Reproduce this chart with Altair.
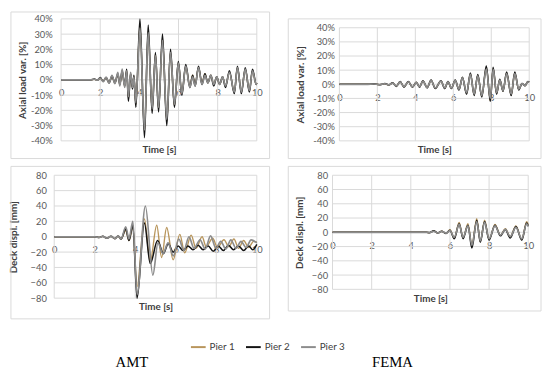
import altair as alt
import pandas as pd

PIERS = ["Pier 1", "Pier 2", "Pier 3"]
PIER_COLORS = ["#b8955b", "#141414", "#8c8c8c"]
X_TICKS = [0, 2, 4, 6, 8, 10]
AXIAL_TICKS = [-40, -30, -20, -10, 0, 10, 20, 30, 40]
DISPL_TICKS = [-80, -60, -40, -20, 0, 20, 40, 60, 80]

# ---- AMT, axial load variation [%] ----
amt_ax_t = [0, 1.5, 1.7, 1.85, 2.0, 2.15, 2.3, 2.45, 2.6, 2.75, 2.9, 3.0, 3.12, 3.25, 3.35,
            3.44, 3.55, 3.65, 3.72, 3.82, 4.03, 4.26, 4.45, 4.65, 4.82, 4.98, 5.18, 5.40,
            5.59, 5.79, 5.99, 6.17, 6.37, 6.58, 6.72, 6.85, 7.02, 7.2, 7.35, 7.5, 7.65, 7.8,
            7.95, 8.1, 8.25, 8.4, 8.6, 8.85, 9.01, 9.21, 9.41, 9.62, 9.78, 9.97, 10]
amt_ax_p1 = [0, 0, 0.3, -0.2, 1.0, -0.8, 1.4, -1.8, 2.2, -2, 3.5, -3, 5, -4, 6,
             -12, 4, -5, 2.5, -16, 36, -34, 32, -20, 17, -19, 27, -27, 18, -17,
             11, -9, 9, -4, 3, -3, 8, -2, 4, -2, 3, -3, 2, -3, 2,
             -4, 5, -8, 8, -8, 7, -7, 6, -3, -2]
amt_ax_p2 = [0, 0, 0.5, -0.3, 1.5, -1, 1.5, -2, 2.5, -2, 4, -3, 6, -4, 7,
             -14, 4, -6, 3, -18, 40, -38, 36, -22, 18, -21, 30, -30, 20, -18,
             12, -10, 10, -5, 3, -4, 9, -3, 4, -2, 3, -4, 2, -3, 2,
             -5, 6, -9, 9, -9, 8, -8, 7, -3, -2]
amt_ax_p3 = [0, 0, 0.4, -0.2, 1.2, -1.2, 1.8, -2.2, 3, -2.5, 5, -4, 7, -5, 6,
             -11, 5, -5, 2, -15, 34, -33, 31, -19, 16, -18, 26, -26, 18, -16,
             11, -9, 9, -5, 2, -4, 8, -3, 3, -2, 3, -3, 2, -3, 2,
             -4, 5, -8, 8, -8, 7, -7, 6, -3, -2]

# ---- FEMA, axial load variation [%] ----
fema_ax_t = [0, 1.5, 1.8, 2.1, 2.4, 2.6, 2.8, 3.0, 3.2, 3.4, 3.63, 3.85, 4.05, 4.22, 4.4,
             4.62, 4.83, 5.05, 5.35, 5.55, 5.72, 5.9, 6.1, 6.3, 6.48, 6.7, 6.9, 7.1, 7.29,
             7.5, 7.74, 7.95, 8.1, 8.28, 8.45, 8.62, 8.81, 9.05, 9.24, 9.45, 9.62, 9.78,
             9.93, 10]
fema_ax_p1 = [0, 0, 0.2, -0.2, 0.4, -0.5, 0.9, -1.3, 1.8, -1.8, 1.8, -1.9, 1.4, -1.8, 2.3,
              -2.3, 2.8, -2.8, 2.3, -2.8, 1.9, -2.8, 2.8, -3.8, 4.8, -6.5, 7.5, -7.5, 6.5,
              -8.5, 12, -11, 11, -6.5, 3.2, -4.8, 8, -7.5, 8, -3.8, 0.5, -1, 1.9, 1.5]
fema_ax_p2 = [0, 0, 0.3, -0.3, 0.5, -0.5, 1, -1.5, 2, -2, 2, -2, 1.5, -2, 2.5,
              -2.5, 3, -3, 2.5, -3, 2, -3, 3, -4, 5, -7, 8, -8, 7,
              -9, 13, -12, 12, -7, 3.5, -5, 8.6, -8, 8.6, -4, 0.5, -1, 2, 1.5]
fema_ax_p3 = [0, 0, 0.2, -0.2, 0.4, -0.4, 0.8, -1.2, 1.7, -1.7, 1.8, -1.8, 1.3, -1.7, 2.2,
              -2.2, 2.6, -2.6, 2.2, -2.6, 1.8, -2.6, 2.6, -3.5, 4.5, -6, 7, -7, 6,
              -8, 11, -10, 10.5, -6, 3, -4.5, 7.5, -7, 7.5, -3.5, 0.5, -1, 1.8, 1.5]

# ---- AMT, deck displacement [mm] ----
amt_dd_t1 = [0, 2.0, 2.2, 2.4, 2.6, 2.8, 3.0, 3.15, 3.3, 3.53, 3.69, 3.88, 4.09, 4.45, 4.74,
             5.06, 5.3, 5.55, 5.87, 6.2, 6.44, 6.76, 7.0, 7.3, 7.5, 7.82, 8.06, 8.38, 8.62,
             8.87, 9.1, 9.35, 9.6, 9.84, 10]
amt_dd_p1 = [0, 0, -1, 0.5, -2, 0.5, -2.5, 1, -3, 8, -5, 12, -65, 23, -32,
             15, -27, 12, -30, 3, -21, 2, -15, 0, -13, -2, -14, -4, -13,
             -3, -15, -5, -14, -6, -7]
amt_dd_t2 = [0, 2.0, 2.2, 2.4, 2.6, 2.8, 3.0, 3.15, 3.3, 3.53, 3.69, 3.88, 4.09, 4.45, 4.74,
             5.1, 5.39, 5.63, 5.87, 6.12, 6.36, 6.6, 6.85, 7.1, 7.35, 7.6, 7.85, 8.1, 8.35,
             8.6, 8.85, 9.1, 9.35, 9.6, 9.8, 10]
amt_dd_p2 = [0, 0, -1, 0.5, -2, 0.5, -2.5, 1, -3, 10, -5, 15, -80, 18, -35,
             -5, -22, -9, -20, -12, -18, -12, -17, -11, -17, -12, -19, -12, -18,
             -11, -17, -12, -18, -12, -17, -10]
amt_dd_t3 = [0, 2.0, 2.2, 2.4, 2.6, 2.8, 3.0, 3.15, 3.3, 3.53, 3.69, 3.88, 4.09, 4.5, 4.87,
             5.12, 5.37, 5.62, 5.88, 6.15, 6.4, 6.65, 6.9, 7.2, 7.45, 7.72, 7.98, 8.22, 8.47,
             8.72, 8.97, 9.22, 9.47, 9.72, 10]
amt_dd_p3 = [0, 0, -1, 0.5, -2, 0.5, -2.5, 1, -3, 13, -3, 20, -75, 40, -50,
             -8, -22, -8, -25, -3, -18, 0, -15, -4, -16, 1, -15, -6, -16,
             -4, -15, -6, -14, -4, -8]

# ---- FEMA, deck displacement [mm] ----
fema_dd_t = [0, 4.8, 4.95, 5.17, 5.38, 5.58, 5.8, 6.0, 6.22, 6.47, 6.67, 6.92, 7.12, 7.37,
             7.55, 7.77, 8.0, 8.3, 8.58, 8.83, 9.08, 9.37, 9.67, 9.92, 10]
fema_dd_p1 = [0, 0, -0.5, 2, -1, 1.5, -1.5, 3.5, -8, 14, -8, 12, -18, 19,
              -13, 17, -10, 11, -4, 5, -6, 9, -10, 15, 11]
fema_dd_p2 = [0, 0, -0.5, 2, -1, 1.5, -1.5, 3, -9, 12, -9, 10, -22, 17,
              -14, 15, -11, 10, -5, 4, -8, 8, -11, 13, 9]
fema_dd_p3 = [0, 0, -0.3, 1.5, -1, 1.2, -1.2, 2.5, -7, 11, -7, 9, -18, 15,
              -12, 14, -9, 9, -4, 4, -6, 7, -9, 12, 8]

FONT = "Lato"
GRID = "#d9d9d9"
LABEL_C = "#595959"
TITLE_C = "#404040"


def long_df(parts):
    rows = []
    for pier, ts, vs in parts:
        for t, v in zip(ts, vs):
            rows.append({"pier": pier, "t": t, "v": v})
    return pd.DataFrame(rows)


def frame(x1, x2, y1, y2):
    return alt.Chart(pd.DataFrame({"k": [0]})).mark_rect(
        fillOpacity=0, stroke=GRID, strokeWidth=1
    ).encode(x=alt.value(x1), x2=alt.value(x2), y=alt.value(y1), y2=alt.value(y2))


def panel(df, pw, ph, left_off, top_off, yticks, ytitle, pct, lab_pad, title_pad, fr):
    vw, vh = left_off + pw, top_off + ph
    xaxis = alt.Axis(values=X_TICKS, grid=False, domain=False, ticks=False, tickSize=0,
                     labelFlush=False, labelOverlap=False, offset=-ph / 2, labelPadding=8,
                     labelFont=FONT, labelFontSize=9.5, labelColor=LABEL_C,
                     title="Time [s]", titleY=ph / 2 + 9, titleBaseline="middle",
                     titleFont=FONT, titleFontSize=10, titleFontWeight="bold",
                     titleColor=TITLE_C)
    yaxis = alt.Axis(values=yticks, grid=False, domain=False,
                     ticks=False, tickSize=0, labelFlush=False, labelOverlap=False,
                     labelPadding=lab_pad, labelFont=FONT, labelFontSize=9.5,
                     labelColor=LABEL_C,
                     labelExpr="datum.value + '%'" if pct else "datum.label",
                     title=ytitle, titlePadding=title_pad, titleY=top_off + ph / 2,
                     titleFont=FONT, titleFontSize=10,
                     titleFontWeight="bold", titleColor=TITLE_C)
    xs = alt.Scale(domain=[0, 10], nice=False, zero=False, range=[left_off, left_off + pw])
    ys = alt.Scale(domain=[yticks[0], yticks[-1]], nice=False, range=[top_off + ph, top_off])
    vgrid = alt.Chart(pd.DataFrame({"t": X_TICKS})).mark_rule(color=GRID, strokeWidth=1).encode(
        x=alt.X("t:Q", scale=xs, axis=xaxis),
        y=alt.Y(datum=yticks[0], scale=ys, axis=yaxis),
        y2=alt.Y2(datum=yticks[-1]))
    hgrid = alt.Chart(pd.DataFrame({"v": yticks})).mark_rule(color=GRID, strokeWidth=1).encode(
        y=alt.Y("v:Q", scale=ys, axis=yaxis),
        x=alt.X(datum=0, scale=xs, axis=xaxis),
        x2=alt.X2(datum=10))
    lines = alt.Chart(df).mark_line(interpolate="monotone").encode(
        x=alt.X("t:Q", scale=xs, axis=xaxis),
        y=alt.Y("v:Q", scale=ys, axis=yaxis),
        color=alt.Color("pier:N", scale=alt.Scale(domain=PIERS, range=PIER_COLORS), legend=None),
        strokeWidth=alt.StrokeWidth("pier:N",
                                    scale=alt.Scale(domain=PIERS, range=[1.4, 1.7, 1.4]),
                                    legend=None),
    )
    return alt.layer(fr, vgrid, hgrid, lines).properties(width=vw, height=vh)


df1 = long_df([("Pier 1", amt_ax_t, amt_ax_p1), ("Pier 2", amt_ax_t, amt_ax_p2),
               ("Pier 3", amt_ax_t, amt_ax_p3)])
df2 = long_df([("Pier 1", fema_ax_t, fema_ax_p1), ("Pier 2", fema_ax_t, fema_ax_p2),
               ("Pier 3", fema_ax_t, fema_ax_p3)])
df3 = long_df([("Pier 1", amt_dd_t1, amt_dd_p1), ("Pier 2", amt_dd_t2, amt_dd_p2),
               ("Pier 3", amt_dd_t3, amt_dd_p3)])
df4 = long_df([("Pier 1", fema_dd_t, fema_dd_p1), ("Pier 2", fema_dd_t, fema_dd_p2),
               ("Pier 3", fema_dd_t, fema_dd_p3)])

p1 = panel(df1, 199, 124, 7, 0, AXIAL_TICKS, "Axial load var. [%]", True, 2, 3,
           frame(-44, 219, -7, 142))
p2 = panel(df2, 193, 115, 0, 9, AXIAL_TICKS, "Axial load var. [%]", True, 5, 7,
           frame(-52, 205, 0, 142))
p3 = panel(df3, 206, 125, 0, 0, DISPL_TICKS, "Deck displ. [mm]", False, 8, 12,
           frame(-44, 219, -9, 146))
p4 = panel(df4, 199, 116, 0, 0, DISPL_TICKS, "Deck displ. [mm]", False, 5, 7,
           frame(-45, 212, -9, 138))

one = pd.DataFrame({"k": [0]})
legend_src = alt.Chart(pd.DataFrame({"pier": PIERS})).mark_point(opacity=0).encode(
    color=alt.Color("pier:N", scale=alt.Scale(domain=PIERS, range=PIER_COLORS),
                    legend=alt.Legend(orient="none", legendX=138, legendY=13,
                                      direction="horizontal", title=None,
                                      symbolType="stroke", symbolSize=225,
                                      symbolStrokeWidth=2, symbolOpacity=1,
                                      labelFont=FONT, labelFontSize=10,
                                      labelColor=TITLE_C, labelOffset=3,
                                      columnPadding=7)))
amt_label = alt.Chart(one).mark_text(text="AMT", font="Liberation Serif", fontSize=15,
                                     color="#000000", align="center", baseline="middle").encode(
    x=alt.value(79), y=alt.value(37))
fema_label = alt.Chart(one).mark_text(text="FEMA", font="Liberation Serif", fontSize=15,
                                      color="#000000", align="center", baseline="middle").encode(
    x=alt.value(344), y=alt.value(37))
bottom = alt.layer(legend_src, amt_label, fema_label).properties(width=400, height=45)

chart = alt.vconcat(
    alt.hconcat(p1, p2, spacing=17),
    alt.hconcat(p3, p4, spacing=17),
    bottom,
    spacing=6,
).resolve_legend(color="independent", strokeWidth="independent").properties(
    padding={"left": 0, "right": 0, "top": 0, "bottom": 0}
).configure_view(stroke=None)

chart.save("out.html", embed_options={"renderer": "svg", "actions": False})
